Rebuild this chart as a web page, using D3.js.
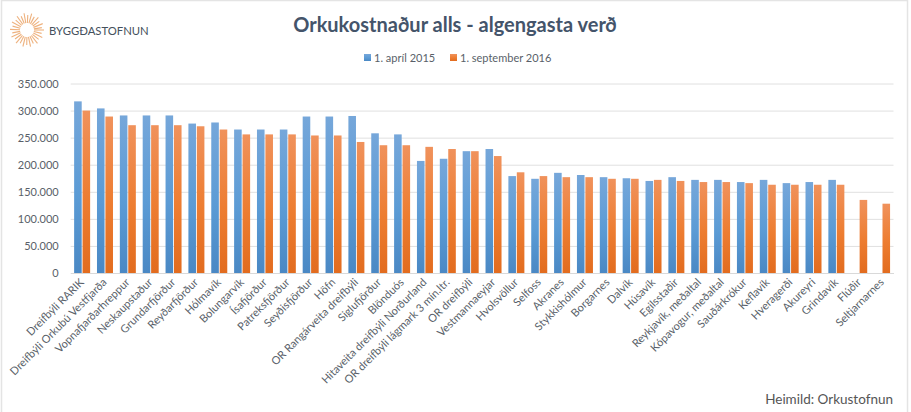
<!DOCTYPE html>
<html>
<head>
<meta charset="utf-8">
<script src="https://cdn.jsdelivr.net/npm/d3@7"></script>
<style>
  html, body { margin: 0; padding: 0; background: #fff; }
  svg { display: block; }
  text { font-family: Lato, "Open Sans", sans-serif; }
</style>
</head>
<body>
<script>
var categories = ['Dreifbýli RARIK', 'Dreifbýli Orkubú Vestfjarða', 'Vopnafjarðarhreppur', 'Neskaupstaður',
  'Grundarfjörður', 'Reyðarfjörður', 'Hólmavík', 'Bolungarvík', 'Ísafjörður', 'Patreksfjörður', 'Seyðisfjörður',
  'Höfn', 'OR Rangárveita dreifbýli', 'Siglufjörður', 'Blönduós', 'Hitaveita dreifbýli Norðurland',
  'OR dreifbýli lágmark 3 mín.ltr.', 'OR dreifbýli', 'Vestmannaeyjar', 'Hvolsvöllur', 'Selfoss', 'Akranes',
  'Stykkishólmur', 'Borgarnes', 'Dalvík', 'Húsavík', 'Egilsstaðir', 'Reykjavík, meðaltal', 'Kópavogur, meðaltal',
  'Sauðárkrókur', 'Keflavík', 'Hveragerði', 'Akureyri', 'Grindavík', 'Flúðir', 'Seltjarnarnes'];

var april2015 = [317000, 304000, 291000, 291000, 291000, 276000, 278000, 265000, 265000, 265000, 289000,
  289000, 290000, 258000, 256000, 207000, 211000, 225000, 229000, 179000, 174000, 185000,
  181000, 177000, 175000, 170000, 177000, 172000, 172000, 168000, 172000, 166000, 168000, 172000, null, null];

var september2016 = [300000, 289000, 273000, 273000, 273000, 271000, 265000, 256000, 256000, 256000, 254000,
  254000, 242000, 236000, 236000, 233000, 229000, 225000, 216000, 186000, 179000, 177000,
  177000, 174000, 174000, 172000, 170000, 168000, 168000, 166000, 163000, 163000, 163000, 163000, 135000, 128000];

var yTicks = [0, 50000, 100000, 150000, 200000, 250000, 300000, 350000];
var seriesNames = ['1. apríl 2015', '1. september 2016'];

var width = 911,
    height = 412;

var x = d3.scaleBand()
    .domain(categories)
    .range([70.7, 893.5])
    .paddingInner(0.3)
    .paddingOuter(0.15);

var x1 = d3.scaleBand()
    .domain(seriesNames)
    .range([0, x.bandwidth()])
    .paddingInner(0.1);

var y = d3.scaleLinear()
    .domain([0, 350000])
    .range([273, 83.5]);

var svg = d3.select('body').append('svg')
    .attr('width', width)
    .attr('height', height);

var defs = svg.append('defs');
function gradient(id, top, mid, bottom) {
  var g = defs.append('linearGradient').attr('id', id)
      .attr('x1', 0).attr('y1', 0).attr('x2', 0).attr('y2', 1);
  g.append('stop').attr('offset', '0%').attr('stop-color', top);
  g.append('stop').attr('offset', '55%').attr('stop-color', mid);
  g.append('stop').attr('offset', '100%').attr('stop-color', bottom);
}
gradient('blue', '#76a7da', '#5b9bd5', '#4a88c4');
gradient('orange', '#f0925c', '#ed7d31', '#e26c1f');

// thin frame around the picture
svg.append('rect')
    .attr('x', 1.5).attr('y', 0.5)
    .attr('width', 906).attr('height', 420)
    .attr('fill', 'none')
    .attr('stroke', '#e4e4e4')
    .attr('stroke-width', 1.5);

// logo
var logo = svg.append('g').attr('transform', 'translate(27,30)');
logo.selectAll('line')
    .data(d3.range(0, 360, 13))
    .enter().append('line')
    .attr('x1', function(d) { return 7 * Math.cos(d * Math.PI / 180); })
    .attr('y1', function(d) { return 7 * Math.sin(d * Math.PI / 180); })
    .attr('x2', function(d, i) { return (i % 2 ? 15 : 17) * Math.cos(d * Math.PI / 180); })
    .attr('y2', function(d, i) { return (i % 2 ? 15 : 17) * Math.sin(d * Math.PI / 180); })
    .attr('stroke', '#eeb27f')
    .attr('stroke-width', 1.1);
svg.append('text')
    .attr('x', 49).attr('y', 35)
    .attr('font-size', 11.3)
    .attr('fill', '#44505c')
    .text('BYGGÐASTOFNUN');

// title and legend
svg.append('text')
    .attr('x', 455).attr('y', 32)
    .attr('text-anchor', 'middle')
    .attr('font-size', 20)
    .attr('font-weight', 700)
    .attr('fill', '#44546a')
    .text('Orkukostnaður alls - algengasta verð');

var legendX = [364, 450];
var legendFill = ['url(#blue)', 'url(#orange)'];
var legend = svg.selectAll('.legend')
    .data(seriesNames)
    .enter().append('g')
    .attr('class', 'legend')
    .attr('transform', function(d, i) { return 'translate(' + legendX[i] + ',54)'; });
legend.append('rect')
    .attr('width', 7).attr('height', 7)
    .attr('fill', function(d, i) { return legendFill[i]; });
legend.append('text')
    .attr('x', 10).attr('y', 7.5)
    .attr('font-size', 11)
    .attr('fill', '#595f69')
    .text(function(d) { return d; });

// y axis with gridlines
var fmt = d3.formatLocale({decimal: ',', thousands: '.', grouping: [3], currency: ['', '']}).format(',d');
var yAxis = svg.append('g')
    .attr('transform', 'translate(70.7,0)')
    .call(d3.axisLeft(y).tickValues(yTicks).tickFormat(fmt).tickSize(-(893.5 - 70.7)).tickPadding(12));
yAxis.select('.domain').remove();
yAxis.selectAll('line').attr('stroke', '#e0e0e0').attr('stroke-width', 1);
yAxis.selectAll('text')
    .attr('font-size', 11)
    .attr('fill', '#595f69');

// bars
var groups = svg.selectAll('.group')
    .data(categories)
    .enter().append('g')
    .attr('class', 'group')
    .attr('transform', function(d) { return 'translate(' + x(d) + ',0)'; });

function drawBars(values, name, fill) {
  groups.filter(function(d, i) { return values[i] != null; })
    .append('rect')
    .attr('x', x1(name))
    .attr('width', x1.bandwidth())
    .attr('y', function(d) { return y(values[categories.indexOf(d)]); })
    .attr('height', function(d) { return y(0) - y(values[categories.indexOf(d)]); })
    .attr('fill', fill);
}
drawBars(april2015, seriesNames[0], 'url(#blue)');
drawBars(september2016, seriesNames[1], 'url(#orange)');

// category labels
var xAxis = svg.append('g')
    .attr('transform', 'translate(0,273)')
    .call(d3.axisBottom(x).tickSize(0));
xAxis.select('.domain').attr('stroke', '#d9d9d9');
xAxis.selectAll('text')
    .attr('font-size', 11)
    .attr('fill', '#595f69')
    .attr('text-anchor', 'end')
    .attr('dx', 0)
    .attr('dy', 0)
    .attr('y', 0)
    .attr('transform', 'translate(2.5,10) rotate(-45)');

svg.append('text')
    .attr('x', 893).attr('y', 404)
    .attr('text-anchor', 'end')
    .attr('font-size', 13.5)
    .attr('fill', '#555')
    .text('Heimild: Orkustofnun');
</script>
</body>
</html>
